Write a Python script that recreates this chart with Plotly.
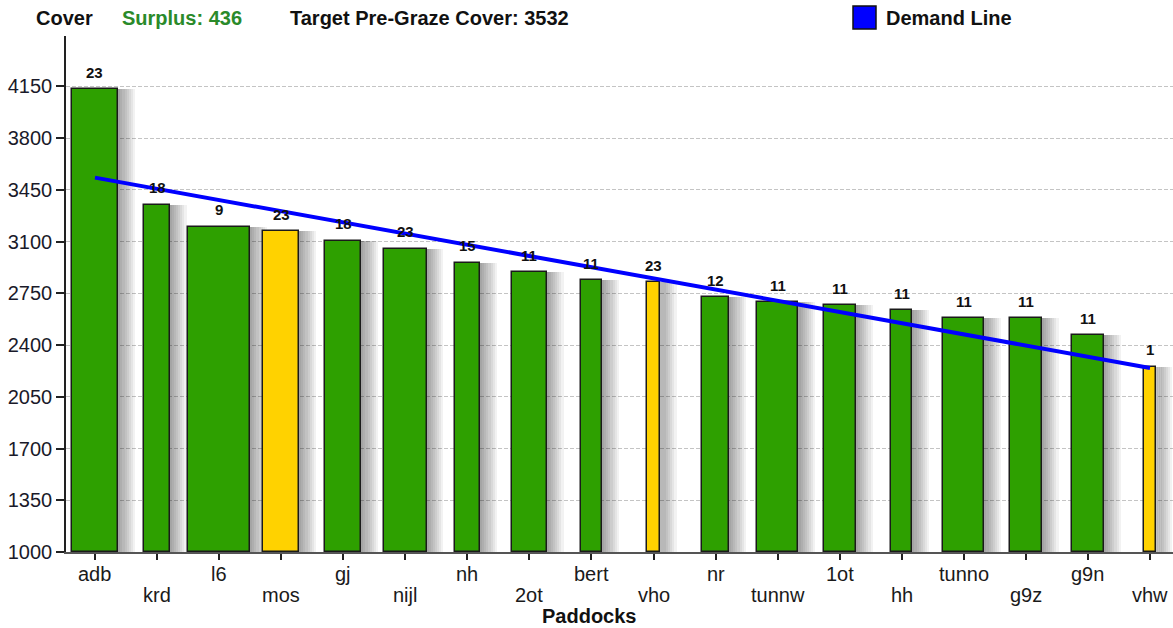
import plotly.graph_objects as go

# ---------------- data ----------------
paddocks = ["adb", "krd", "l6", "mos", "gj", "nijl", "nh", "2ot", "bert",
            "vho", "nr", "tunnw", "1ot", "hh", "tunno", "g9z", "g9n", "vhw"]
cover = [4130, 3350, 3200, 3168, 3105, 3052, 2956, 2893, 2839,
         2826, 2722, 2690, 2668, 2636, 2582, 2582, 2467, 2253]
days = [23, 18, 9, 23, 18, 23, 15, 11, 11, 23, 12, 11, 11, 11, 11, 11, 11, 1]
rel_area = [0.75, 0.41, 1.0, 0.58, 0.58, 0.69, 0.41, 0.56, 0.34,
            0.20, 0.435, 0.67, 0.52, 0.34, 0.66, 0.51, 0.515, 0.18]
flagged = [False, False, False, True, False, False, False, False, False,
           True, False, False, False, False, False, False, False, True]
demand_paddocks = ["adb", "vhw"]
demand_cover = [3532, 2245]
surplus = 436
target_cover = 3532
y_ticks = [1000, 1350, 1700, 2050, 2400, 2750, 3100, 3450, 3800, 4150]

# ---------------- styling ----------------
FONT = "Liberation Sans, Arial, sans-serif"
GREEN = "#2ea000"
YELLOW = "#ffd200"
W, H = 1173, 628
ML, MT = 66, 36
plot_bottom = 551.7
MB = H - plot_bottom
MR = 0
plot_w = W - ML - MR
plot_h = H - MT - MB
x_lo = -0.467
slot_px = 62.06
x_hi = x_lo + plot_w / slot_px
px = 1.0 / slot_px  # one pixel in category units

colors = [YELLOW if f else GREEN for f in flagged]

fig = go.Figure()

# soft drop shadow (layered translucent bars shifted right)
for k in range(1, 9):
    fig.add_trace(go.Bar(
        x=paddocks, y=[c - 1000 for c in cover], base=1000,
        width=rel_area,
        offset=[-w / 2 + k * 2.1 * px for w in rel_area],
        marker=dict(color="rgba(0,0,0,0.05)", line=dict(width=0)),
        hoverinfo="skip", showlegend=False,
    ))

# main bars
fig.add_trace(go.Bar(
    x=paddocks, y=[c - 1000 for c in cover], base=1000,
    width=rel_area,
    offset=[-w / 2 for w in rel_area],
    marker=dict(color=colors, line=dict(color="#1a1a1a", width=1.5)),
    showlegend=False, name="Cover",
))

# demand line
fig.add_trace(go.Scatter(
    x=demand_paddocks, y=demand_cover, mode="lines",
    line=dict(color="#0000ff", width=4), name="Demand Line",
    showlegend=False,
))

annotations = []
# value labels above bars
for p, c, d in zip(paddocks, cover, days):
    annotations.append(dict(
        x=p, y=c, xref="x", yref="y", text=f"<b>{d}</b>", showarrow=False,
        yanchor="middle", yshift=17, font=dict(family=FONT, size=15, color="#111111"),
    ))
# category labels in two staggered rows
for i, p in enumerate(paddocks):
    annotations.append(dict(
        x=p, y=0, xref="x", yref="paper", text=p, showarrow=False,
        yanchor="middle", yshift=-22 if i % 2 == 0 else -43,
        font=dict(family=FONT, size=20, color="#1a1a1a"),
    ))


def pxx(v):
    return (v - ML) / plot_w


def pxy(v):
    return (plot_bottom - v) / plot_h


annotations += [
    dict(x=pxx(64), y=pxy(18), xref="paper", yref="paper", text="<b>Cover</b>",
         showarrow=False, xanchor="center", yanchor="middle",
         font=dict(family=FONT, size=20, color="#111111")),
    dict(x=pxx(120), y=pxy(18), xref="paper", yref="paper",
         text=f"<b>Surplus: {surplus}</b>", showarrow=False,
         xanchor="left", yanchor="middle",
         font=dict(family=FONT, size=20, color="#2a8a2a")),
    dict(x=pxx(288), y=pxy(18), xref="paper", yref="paper",
         text=f"<b>Target Pre-Graze Cover: {target_cover}</b>", showarrow=False,
         xanchor="left", yanchor="middle",
         font=dict(family=FONT, size=20, color="#111111")),
    dict(x=pxx(884), y=pxy(18), xref="paper", yref="paper",
         text="<b>Demand Line</b>", showarrow=False,
         xanchor="left", yanchor="middle",
         font=dict(family=FONT, size=20, color="#111111")),
    dict(x=pxx(589), y=pxy(616), xref="paper", yref="paper",
         text="<b>Paddocks</b>", showarrow=False,
         xanchor="center", yanchor="middle",
         font=dict(family=FONT, size=20, color="#111111")),
]

shapes = [dict(type="rect", xref="paper", yref="paper",
               x0=pxx(853), x1=pxx(876), y0=pxy(29), y1=pxy(6),
               fillcolor="#0000ff", line=dict(color="#111111", width=1.5))]

fig.update_layout(
    width=W, height=H,
    margin=dict(l=ML, r=MR, t=MT, b=MB, pad=0),
    paper_bgcolor="white", plot_bgcolor="white",
    barmode="overlay", bargap=0,
    annotations=annotations, shapes=shapes,
    font=dict(family=FONT, size=20, color="#111111"),
    xaxis=dict(
        type="category", categoryorder="array", categoryarray=paddocks,
        range=[x_lo, x_hi], showgrid=False, showticklabels=False,
        ticks="outside", ticklen=6, tickcolor="#222222", tickwidth=1.5,
        showline=True, linecolor="#555555", linewidth=1.5, zeroline=False,
        fixedrange=True,
    ),
    yaxis=dict(
        range=[1000, 4490], tickvals=y_ticks,
        ticktext=[str(v) for v in y_ticks],
        ticks="outside", ticklen=8, tickcolor="#222222", tickwidth=1.5,
        tickfont=dict(family=FONT, size=20, color="#1a1a2a"),
        showline=True, linecolor="#222222", linewidth=1.5,
        showgrid=True, gridcolor="#c4c4c4", gridwidth=1, griddash="4px,2px",
        zeroline=False, fixedrange=True,
    ),
)

fig.write_html(
    "out.html",
    config={"displayModeBar": False},
    post_script="document.body.style.margin='0';document.body.style.overflow='hidden';",
)
